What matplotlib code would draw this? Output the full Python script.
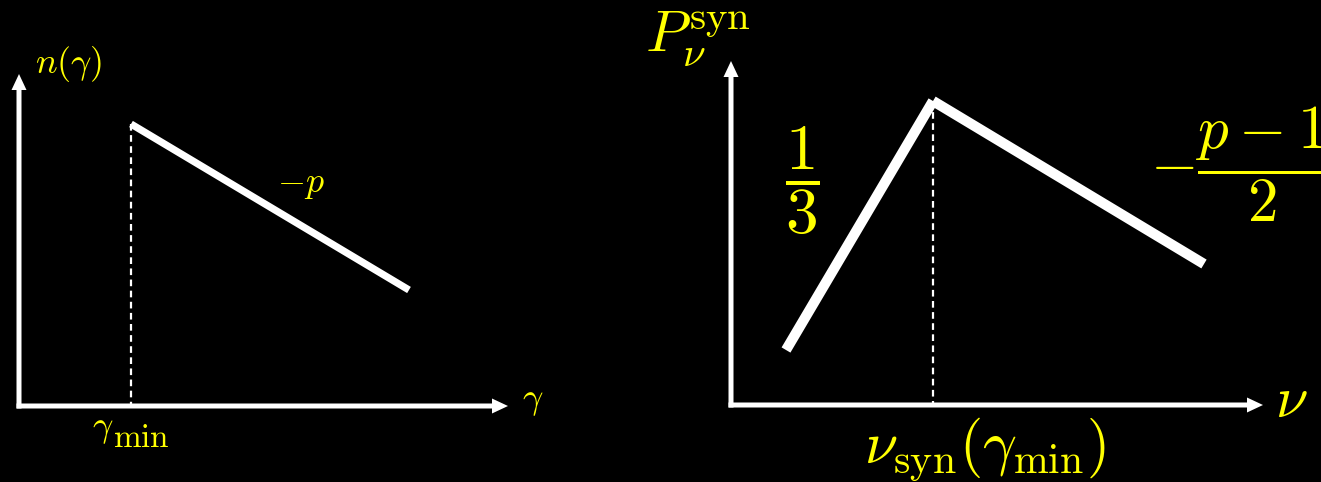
import matplotlib.pyplot as plt

plt.rcParams["mathtext.fontset"] = "cm"

W, H = 1321, 482
YELLOW = "#ffff00"

# lewy panel: rozklad elektronow n(gamma), wspolrzedne w pikselach rysunku
lewy_poczatek = (19, 406)
lewy_os_x_koniec = 508
lewy_os_y_koniec = 74
gamma_pts = [131, 409]
n_pts = [124, 290]

# prawy panel: widmo synchrotronowe P_nu
prawy_poczatek = (731, 405)
prawy_os_x_koniec = 1263
prawy_os_y_koniec = 61
nu_pts = [786, 933, 1204]
P_pts = [350, 101, 264]

fig = plt.figure(figsize=(W / 100, H / 100), dpi=100)
fig.patch.set_facecolor("black")
ax = fig.add_axes([0, 0, 1, 1])
ax.set_facecolor("black")
ax.set_xlim(0, W)
ax.set_ylim(H, 0)
ax.axis("off")


def osie(x0, y0, x1, y1):
    # strzalki osi, wspolny poczatek
    ax.arrow(x0 - 2.5, y0, x1 - x0 + 2.5, 0, width=5, head_width=15, head_length=16,
             length_includes_head=True, color="white", lw=0)
    ax.arrow(x0, y0 + 2.5, 0, y1 - y0 - 2.5, width=5, head_width=15, head_length=16,
             length_includes_head=True, color="white", lw=0)


# --- lewy wykres ---
osie(lewy_poczatek[0], lewy_poczatek[1], lewy_os_x_koniec, lewy_os_y_koniec)
ax.plot(gamma_pts, n_pts, color="white", lw=5.2, solid_capstyle="butt")
ax.plot([gamma_pts[0], gamma_pts[0]], [n_pts[0], lewy_poczatek[1]], color="white",
        lw=1.6, dashes=(3, 2))

ax.text(35, 73, r"$n(\gamma)$", color=YELLOW, fontsize=26, va="baseline")
ax.text(277, 192, r"$-p$", color=YELLOW, fontsize=26, va="baseline")
ax.text(522, 408, r"$\gamma$", color=YELLOW, fontsize=26, va="baseline")
# gamma_min: indeks dolny prawie w pelnym rozmiarze
ax.text(92, 436, r"$\gamma$", color=YELLOW, fontsize=26, va="baseline")
ax.text(113, 447, r"$\mathrm{min}$", color=YELLOW, fontsize=24, va="baseline")

# --- prawy wykres ---
osie(prawy_poczatek[0], prawy_poczatek[1], prawy_os_x_koniec, prawy_os_y_koniec)
for i in range(len(nu_pts) - 1):
    ax.plot(nu_pts[i:i + 2], P_pts[i:i + 2], color="white", lw=7.4, solid_capstyle="butt")
ax.plot([nu_pts[1], nu_pts[1]], [P_pts[1], prawy_poczatek[1]], color="white",
        lw=1.6, dashes=(3, 2))

ax.text(645, 52, r"$P_\nu^{\rm syn}$", color=YELLOW, fontsize=42, va="baseline")
ax.text(802, 181, r"$\dfrac{1}{3}$", color=YELLOW, fontsize=47, ha="center", va="center")
ax.text(1150, 164, r"$-\dfrac{p-1}{2}$", color=YELLOW, fontsize=44, ha="left", va="center")
ax.text(1275, 417, r"$\nu$", color=YELLOW, fontsize=42, va="baseline")
ax.text(864, 463, r"$\nu_{\rm syn}(\gamma_{\min})$", color=YELLOW, fontsize=43, va="baseline")

plt.savefig("out.png", dpi=100, facecolor="black")
